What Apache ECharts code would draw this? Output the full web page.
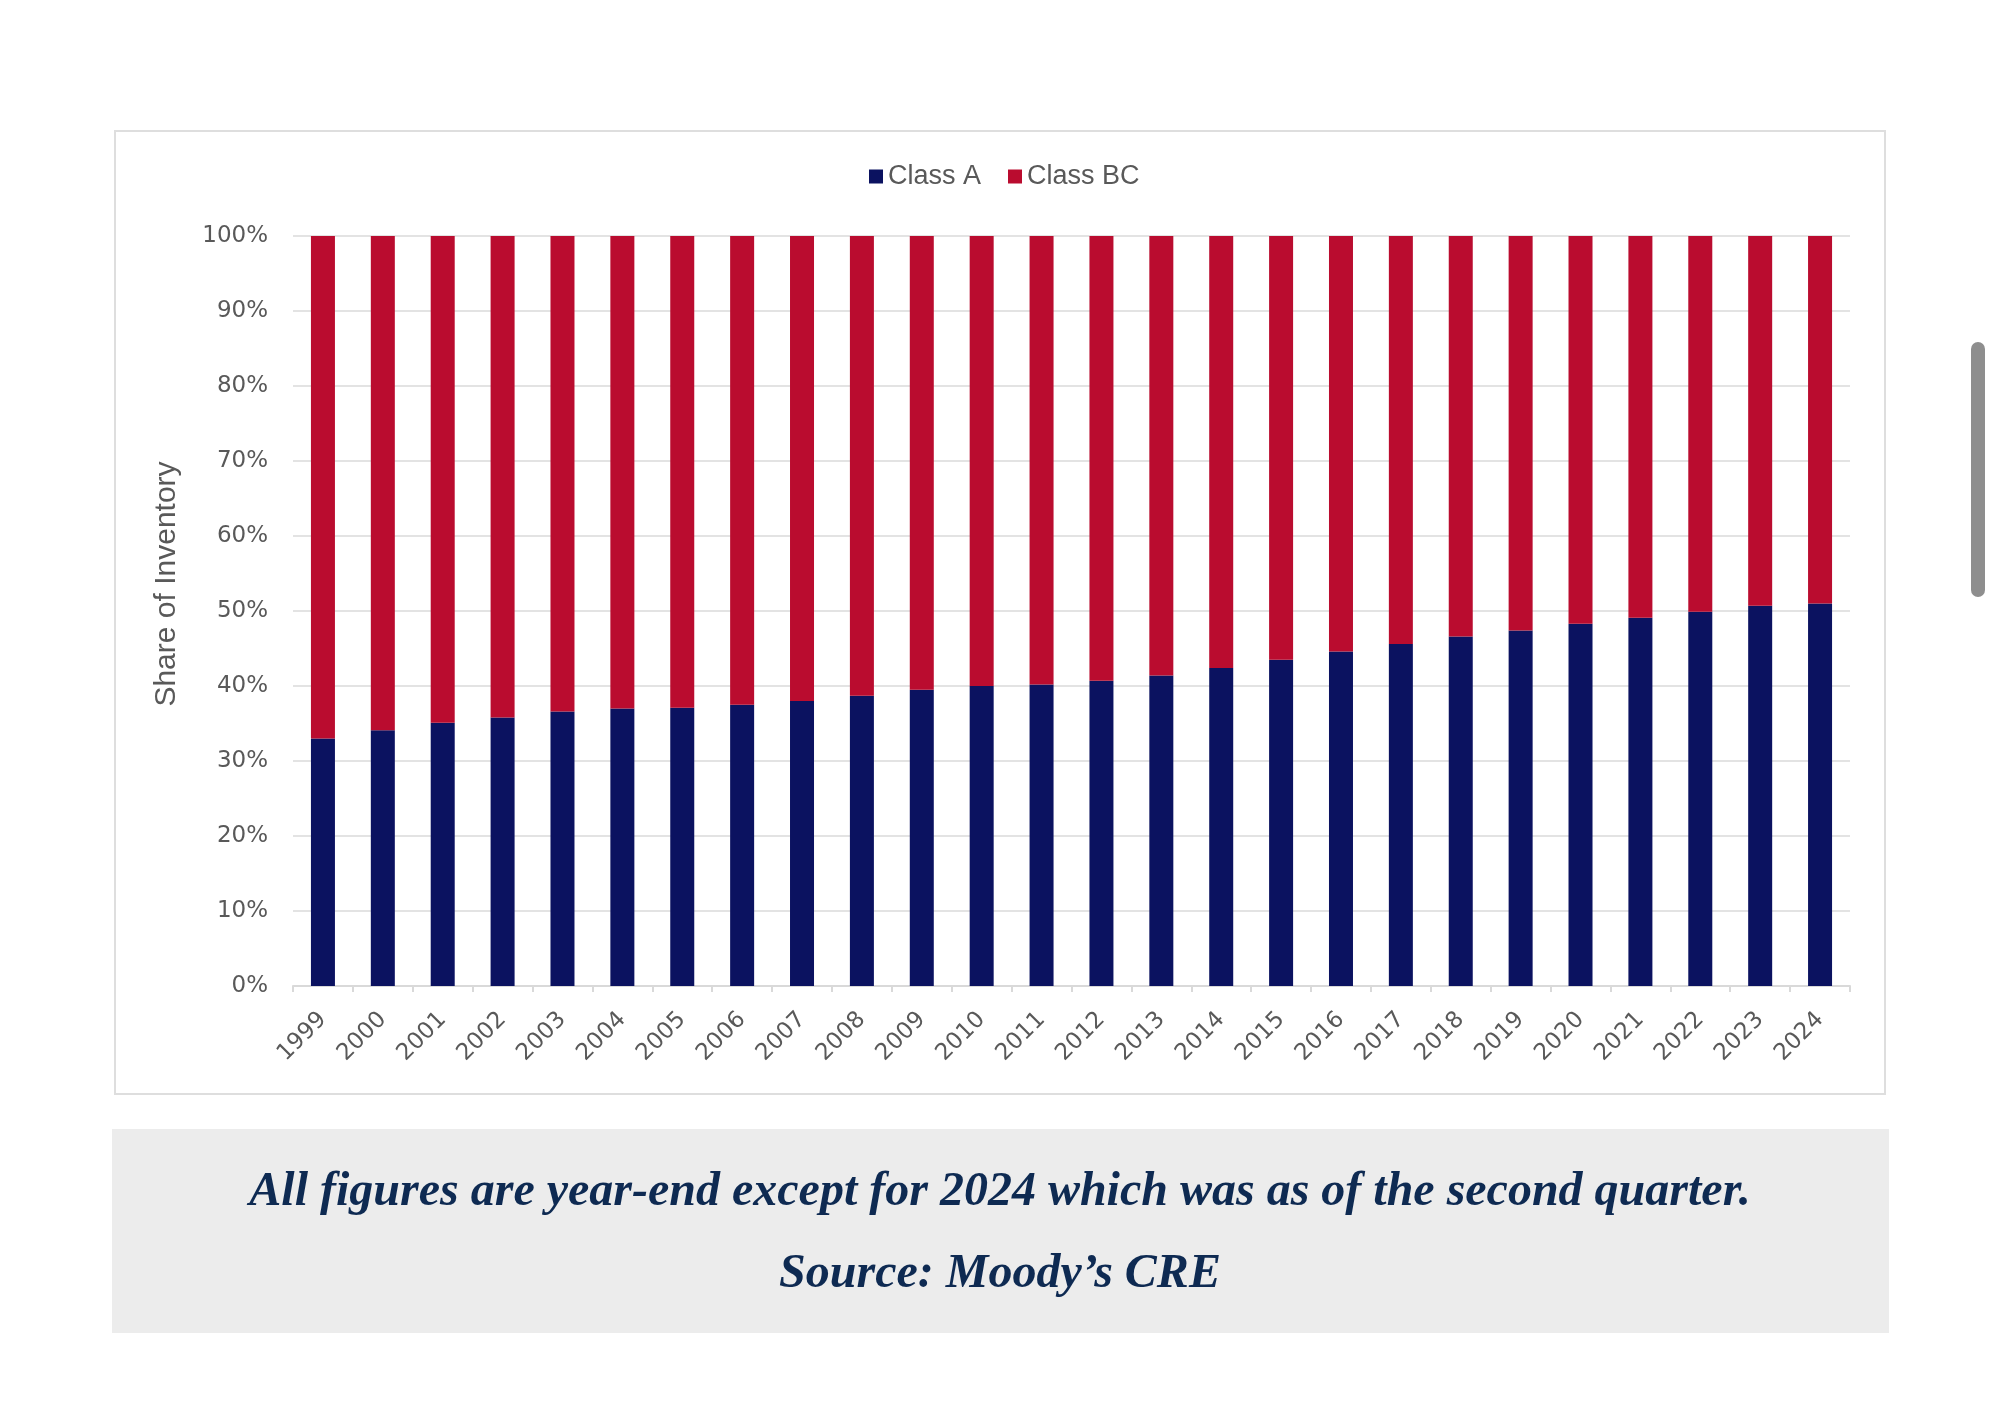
<!DOCTYPE html>
<html>
<head>
<meta charset="utf-8">
<script src="https://cdn.jsdelivr.net/npm/echarts@6/dist/echarts.min.js"></script>
<style>
html,body{margin:0;padding:0;background:#fff;}
#chart{width:2000px;height:1417px;}
</style>
</head>
<body>
<div id="chart"></div>
<script>
const years = ['1999','2000','2001','2002','2003','2004','2005','2006','2007','2008','2009','2010','2011','2012','2013','2014','2015','2016','2017','2018','2019','2020','2021','2022','2023','2024'];
const classA = [33.0,34.1,35.1,35.8,36.6,37.0,37.1,37.5,38.0,38.7,39.5,40.0,40.2,40.7,41.4,42.4,43.5,44.6,45.6,46.6,47.4,48.3,49.1,49.9,50.7,51.0];
const classBC = [67.0,65.9,64.9,64.2,63.4,63.0,62.9,62.5,62.0,61.3,60.5,60.0,59.8,59.3,58.6,57.6,56.5,55.4,54.4,53.4,52.6,51.7,50.9,50.1,49.3,49.0];
const seriesNames = ['Class A','Class BC'];
const yTicks = {min:0, max:100, interval:10};
const yTitle = 'Share of Inventory';
const captionLines = ['All figures are year-end except for 2024 which was as of the second quarter.','Source: Moody\u2019s CRE'];

const chart = echarts.init(document.getElementById('chart'), null, {renderer:'canvas'});
const gray = '#595959';
const option = {
  backgroundColor:'#ffffff',
  animation:false,
  legend:{
    data:seriesNames,
    left:864, top:158,
    icon:'rect', itemWidth:14, itemHeight:14, itemGap:27,
    textStyle:{color:gray, fontSize:27, fontFamily:'Liberation Sans'}
  },
  grid:{left:293, right:150, top:236, bottom:431, containLabel:false},
  xAxis:{
    type:'category', data:years, boundaryGap:true,
    axisLine:{show:true, lineStyle:{color:'#d9d9d9', width:2}},
    axisTick:{show:true, alignWithLabel:false, length:6, lineStyle:{color:'#d9d9d9', width:2}},
    axisLabel:{rotate:45, color:gray, fontSize:23, fontFamily:'DejaVu Sans', margin:30, interval:0}
  },
  yAxis:{
    type:'value', min:yTicks.min, max:yTicks.max, interval:yTicks.interval,
    axisLine:{show:false}, axisTick:{show:false},
    splitLine:{lineStyle:{color:'#e3e3e3', width:2}},
    axisLabel:{formatter:'{value}%', color:gray, fontSize:23, fontFamily:'DejaVu Sans', margin:25}
  },
  series:[
    {name:seriesNames[0], type:'bar', stack:'s', data:classA, barWidth:24, itemStyle:{color:'#0b1260'}},
    {name:seriesNames[1], type:'bar', stack:'s', data:classBC, barWidth:24, itemStyle:{color:'#ba0c2f'}}
  ],
  graphic:[
    {type:'rect', z:-10, shape:{x:115, y:131, width:1770, height:963}, style:{fill:'none', stroke:'#dedede', lineWidth:2}},
    {type:'text', x:167, y:584, rotation:Math.PI/2, style:{text:yTitle, fill:gray, fontSize:30, fontFamily:'Liberation Sans', textAlign:'center', textVerticalAlign:'middle'}},
    {type:'rect', shape:{x:112, y:1129, width:1777, height:204}, style:{fill:'#ececec'}},
    {type:'text', x:1000, y:1193, style:{text:captionLines[0], fill:'#0e2a52', font:'italic bold 48px "Liberation Serif"', textAlign:'center', textVerticalAlign:'middle'}},
    {type:'text', x:1000, y:1275, style:{text:captionLines[1], fill:'#0e2a52', font:'italic bold 48px "Liberation Serif"', textAlign:'center', textVerticalAlign:'middle'}},
    {type:'rect', shape:{x:1971, y:342, width:14, height:255, r:7}, style:{fill:'#8e8e8e'}}
  ]
};
chart.setOption(option);
</script>
</body>
</html>
